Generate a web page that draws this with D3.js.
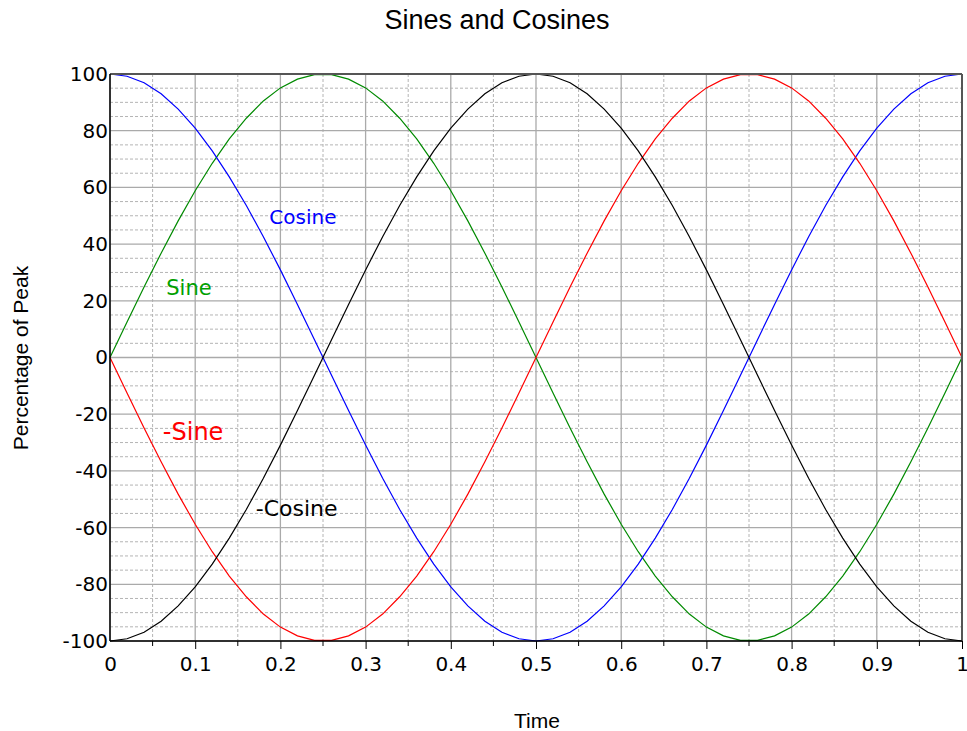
<!DOCTYPE html>
<html>
<head>
<meta charset="utf-8">
<script src="https://cdn.jsdelivr.net/npm/d3@7"></script>
<style>
  body { margin: 0; background: #fff; }
  svg { display: block; }
</style>
</head>
<body>
<svg id="chart" width="967" height="731"></svg>
<script>
const time = [0,0.02,0.04,0.06,0.08,0.1,0.12,0.14,0.16,0.18,0.2,0.22,0.24,0.26,0.28,0.3,0.32,0.34,0.36,0.38,0.4,0.42,0.44,0.46,0.48,0.5,
  0.52,0.54,0.56,0.58,0.6,0.62,0.64,0.66,0.68,0.7,0.72,0.74,0.76,0.78,0.8,0.82,0.84,0.86,0.88,0.9,0.92,0.94,0.96,0.98,1]
const sine = [0,12.5,24.9,36.8,48.2,58.8,68.5,77.1,84.4,90.5,95.1,98.2,99.8,99.8,98.2,95.1,90.5,84.4,77.1,68.5,58.8,48.2,36.8,24.9,12.5,0,
  -12.5,-24.9,-36.8,-48.2,-58.8,-68.5,-77.1,-84.4,-90.5,-95.1,-98.2,-99.8,-99.8,-98.2,-95.1,-90.5,-84.4,-77.1,-68.5,-58.8,-48.2,-36.8,-24.9,-12.5,0]
const cosine = [100,99.2,96.9,93.0,87.6,80.9,72.9,63.7,53.6,42.6,30.9,18.7,6.3,-6.3,-18.7,-30.9,-42.6,-53.6,-63.7,-72.9,-80.9,-87.6,-93.0,-96.9,-99.2,-100,
  -99.2,-96.9,-93.0,-87.6,-80.9,-72.9,-63.7,-53.6,-42.6,-30.9,-18.7,-6.3,6.3,18.7,30.9,42.6,53.6,63.7,72.9,80.9,87.6,93.0,96.9,99.2,100]
const negSine = [0,-12.5,-24.9,-36.8,-48.2,-58.8,-68.5,-77.1,-84.4,-90.5,-95.1,-98.2,-99.8,-99.8,-98.2,-95.1,-90.5,-84.4,-77.1,-68.5,-58.8,-48.2,-36.8,-24.9,-12.5,0,
  12.5,24.9,36.8,48.2,58.8,68.5,77.1,84.4,90.5,95.1,98.2,99.8,99.8,98.2,95.1,90.5,84.4,77.1,68.5,58.8,48.2,36.8,24.9,12.5,0]
const negCosine = [-100,-99.2,-96.9,-93.0,-87.6,-80.9,-72.9,-63.7,-53.6,-42.6,-30.9,-18.7,-6.3,6.3,18.7,30.9,42.6,53.6,63.7,72.9,80.9,87.6,93.0,96.9,99.2,100,
  99.2,96.9,93.0,87.6,80.9,72.9,63.7,53.6,42.6,30.9,18.7,6.3,-6.3,-18.7,-30.9,-42.6,-53.6,-63.7,-72.9,-80.9,-87.6,-93.0,-96.9,-99.2,-100]

const xTicks = [0,0.1,0.2,0.3,0.4,0.5,0.6,0.7,0.8,0.9,1]
const xMinor = [0.05,0.15,0.25,0.35,0.45,0.55,0.65,0.75,0.85,0.95]
const yTicks = [-100,-80,-60,-40,-20,0,20,40,60,80,100]
const yMinor = [-95,-90,-85,-75,-70,-65,-55,-50,-45,-35,-30,-25,-15,-10,-5,5,10,15,25,30,35,45,50,55,65,70,75,85,90,95]

// series: name, colour, label position (time, value), label size
const seriesNames = ["Sine", "Cosine", "-Sine", "-Cosine"]
const seriesColors = ["#008a00", "#0000ff", "#ff0000", "#000000"]
const labelX = [0.066, 0.187, 0.062, 0.171]
const labelY = [22, 47, -29, -56]
const labelSize = [21, 20, 24, 22]
const seriesValues = [sine, cosine, negSine, negCosine]

// note: "top" is taken by window.top, so plot edges get their own names
var svg = d3.select("#chart")
var plotLeft = 110, plotRight = 962, plotTop = 74, plotBottom = 641

var x = d3.scaleLinear().domain([0, 1]).range([plotLeft, plotRight])
var y = d3.scaleLinear().domain([-100, 100]).range([plotBottom, plotTop])

//grid first so the curves sit on top
var grid = svg.append("g")
grid.selectAll(".ym").data(yMinor).enter().append("line")
    .attr("x1", plotLeft).attr("x2", plotRight)
    .attr("y1", d => y(d)).attr("y2", d => y(d))
    .attr("stroke", "#b4b4b4").attr("stroke-dasharray", "3,2")
grid.selectAll(".xm").data(xMinor).enter().append("line")
    .attr("y1", plotTop).attr("y2", plotBottom)
    .attr("x1", d => x(d)).attr("x2", d => x(d))
    .attr("stroke", "#b4b4b4").attr("stroke-dasharray", "3,2")
grid.selectAll(".yM").data(yTicks).enter().append("line")
    .attr("x1", plotLeft).attr("x2", plotRight)
    .attr("y1", d => y(d)).attr("y2", d => y(d))
    .attr("stroke", "#aaaaaa").attr("stroke-width", 1.3)
grid.selectAll(".xM").data(xTicks).enter().append("line")
    .attr("y1", plotTop).attr("y2", plotBottom)
    .attr("x1", d => x(d)).attr("x2", d => x(d))
    .attr("stroke", "#aaaaaa").attr("stroke-width", 1.3)

var line = d3.line()
    .x((d, i) => x(time[i]))
    .y(d => y(d))

seriesValues.forEach(function (vals, i) {
    svg.append("path")
        .datum(vals)
        .attr("d", line)
        .attr("fill", "none")
        .attr("stroke", seriesColors[i])
        .attr("stroke-width", 1.2)
})

// frame: grey top/right, black axes
svg.append("line").attr("x1", plotLeft).attr("x2", plotRight).attr("y1", plotTop).attr("y2", plotTop)
    .attr("stroke", "#555").attr("stroke-width", 2)
svg.append("line").attr("x1", plotRight).attr("x2", plotRight).attr("y1", plotTop).attr("y2", plotBottom)
    .attr("stroke", "#555").attr("stroke-width", 2)

// plain hyphen for negatives, like the reference
var plain = d => String(d)

var xAxis = svg.append("g")
    .attr("transform", "translate(0," + plotBottom + ")")
    .call(d3.axisBottom(x).tickValues(xTicks).tickSize(8).tickPadding(8).tickFormat(plain))
xAxis.selectAll(".tick").filter(d => d === 0).select("line").remove()
xAxis.selectAll(".tick text")
    .attr("font-family", "DejaVu Sans").attr("font-size", 20).attr("fill", "#000")
xAxis.select(".domain").attr("stroke", "#000").attr("stroke-width", 1.5).attr("d", "M" + plotLeft + ",0H" + plotRight)
xAxis.selectAll(".minor").data(xMinor).enter().append("line")
    .attr("x1", d => x(d)).attr("x2", d => x(d))
    .attr("y1", 0).attr("y2", 5).attr("stroke", "#000")

var yAxis = svg.append("g")
    .attr("transform", "translate(" + plotLeft + ",0)")
    .call(d3.axisLeft(y).tickValues(yTicks).tickSize(0).tickPadding(2).tickFormat(plain))
yAxis.selectAll(".tick text")
    .attr("font-family", "DejaVu Sans").attr("font-size", 20).attr("fill", "#000")
yAxis.select(".domain").attr("stroke", "#000").attr("stroke-width", 1.5).attr("d", "M0," + plotTop + "V" + plotBottom)

// curve labels
seriesNames.forEach(function (name, i) {
    svg.append("text")
        .attr("x", x(labelX[i]))
        .attr("y", y(labelY[i]))
        .attr("font-family", "DejaVu Sans")
        .attr("font-size", labelSize[i])
        .attr("fill", i === 0 ? "#00a000" : seriesColors[i])
        .text(name)
})

svg.append("text")
    .attr("x", 497).attr("y", 29)
    .attr("text-anchor", "middle")
    .attr("font-family", "Liberation Sans")
    .attr("font-size", 27)
    .text("Sines and Cosines")

svg.append("text")
    .attr("x", 537).attr("y", 728)
    .attr("text-anchor", "middle")
    .attr("font-family", "Liberation Sans")
    .attr("font-size", 21)
    .text("Time")

svg.append("text")
    .attr("transform", "translate(28," + 358 + ") rotate(-90)")
    .attr("text-anchor", "middle")
    .attr("font-family", "Liberation Sans")
    .attr("font-size", 21)
    .text("Percentage of Peak")
</script>
</body>
</html>
